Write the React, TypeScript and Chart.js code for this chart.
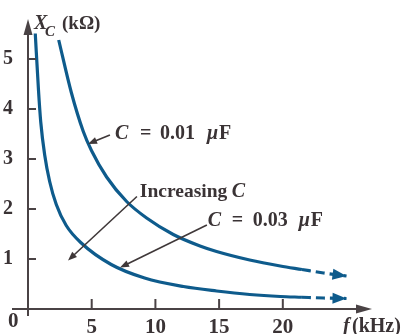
import React, { useEffect, useRef } from "react";
import { Chart, registerables } from "chart.js";

Chart.register(...registerables);

// Data
const freqC1 = [2.41, 3.4, 4.34, 4.98, 6.17, 7.74, 9.31, 11.4, 13.5, 14.8, 17.4, 19.8, 21.5, 23.2, 25.0];
const xcC1 = [5.38, 4.33, 3.55, 3.17, 2.64, 2.15, 1.82, 1.49, 1.26, 1.15, 0.98, 0.86, 0.79, 0.72, 0.66];
const freqC3 = [0.57, 0.82, 1.0, 1.31, 1.7, 2.22, 3.0, 4.18, 6.53, 9.15, 12.2, 14.8, 17.4, 19.8, 21.5, 23.2, 25.0];
const xcC3 = [5.51, 4.39, 3.74, 3.08, 2.55, 2.09, 1.67, 1.32, 0.89, 0.62, 0.45, 0.36, 0.29, 0.25, 0.235, 0.22, 0.21];
const dashFrom = 21.5;
const xTicks = [5, 10, 15, 20];
const yTicks = [1, 2, 3, 4, 5];
const xMax = 27;
const yMax = 5.8;

const CURVE = "#0e5b8c";
const AXIS = "#4a4345";
const TEXT = "#3a3335";
const FONT = '"Liberation Serif", "Times New Roman", serif';

function arrowHead(ctx: CanvasRenderingContext2D, x1: number, y1: number, x2: number, y2: number, len: number, half: number, color: string) {
  const a = Math.atan2(y2 - y1, x2 - x1);
  ctx.save();
  ctx.fillStyle = color;
  ctx.beginPath();
  ctx.moveTo(x2, y2);
  ctx.lineTo(x2 - len * Math.cos(a) + half * Math.sin(a), y2 - len * Math.sin(a) - half * Math.cos(a));
  ctx.lineTo(x2 - len * Math.cos(a) - half * Math.sin(a), y2 - len * Math.sin(a) + half * Math.cos(a));
  ctx.closePath();
  ctx.fill();
  ctx.restore();
}

function arrow(ctx: CanvasRenderingContext2D, x1: number, y1: number, x2: number, y2: number, color: string, w: number, len: number, half: number) {
  const a = Math.atan2(y2 - y1, x2 - x1);
  ctx.save();
  ctx.strokeStyle = color;
  ctx.lineWidth = w;
  ctx.beginPath();
  ctx.moveTo(x1, y1);
  ctx.lineTo(x2 - (len - 2) * Math.cos(a), y2 - (len - 2) * Math.sin(a));
  ctx.stroke();
  ctx.restore();
  arrowHead(ctx, x1, y1, x2, y2, len, half, color);
}

type Piece = { t: string; dx: number; italic?: boolean; size?: number; dy?: number };
function pieces(ctx: CanvasRenderingContext2D, x: number, y: number, list: Piece[]) {
  ctx.save();
  ctx.fillStyle = TEXT;
  ctx.textBaseline = "middle";
  ctx.textAlign = "left";
  for (const p of list) {
    ctx.font = `${p.italic ? "italic " : ""}bold ${p.size || 20}px ${FONT}`;
    ctx.fillText(p.t, x + p.dx, y + (p.dy || 0));
  }
  ctx.restore();
}

const decor = {
  id: "decor",
  afterDraw(chart: any) {
    const { ctx, scales } = chart;
    const X = (v: number) => scales.x.getPixelForValue(v);
    const Y = (v: number) => scales.y.getPixelForValue(v);
    const x0 = X(0), y0 = Y(0);

    // axes with arrows
    ctx.save();
    ctx.strokeStyle = AXIS;
    ctx.lineWidth = 2;
    ctx.beginPath();
    ctx.moveTo(x0 - 16, y0);
    ctx.lineTo(X(xMax) - 10, y0);
    ctx.moveTo(x0, y0 + 7);
    ctx.lineTo(x0, Y(yMax) + 10);
    ctx.stroke();
    // inner ticks
    ctx.beginPath();
    for (const v of yTicks) {
      ctx.moveTo(x0, Y(v));
      ctx.lineTo(x0 + 8, Y(v));
    }
    for (const v of xTicks) {
      ctx.moveTo(X(v), y0);
      ctx.lineTo(X(v), y0 - 10);
    }
    ctx.stroke();
    ctx.restore();
    arrowHead(ctx, x0, y0, X(xMax), y0, 16, 4.5, AXIS);
    arrowHead(ctx, x0, y0, x0, Y(yMax), 16, 4.5, AXIS);

    // curve arrowheads
    const n1 = freqC1.length, n3 = freqC3.length;
    arrowHead(ctx, X(freqC1[n1 - 2]), Y(xcC1[n1 - 2]), X(freqC1[n1 - 1]), Y(xcC1[n1 - 1]), 14, 5.5, CURVE);
    arrowHead(ctx, X(freqC3[n3 - 2]), Y(xcC3[n3 - 2]), X(freqC3[n3 - 1]), Y(xcC3[n3 - 1]), 14, 5.5, CURVE);

    // origin label
    pieces(ctx, x0 - 20, y0 + 13, [{ t: "0", dx: 0, size: 21 }]);

    // axis titles
    pieces(ctx, x0 + 6, Y(yMax) + 5, [
      { t: "X", dx: 0, italic: true, size: 20 },
      { t: "C", dx: 11, italic: true, size: 15, dy: 8 },
      { t: "(k\u03A9)", dx: 28, size: 19 },
    ]);
    pieces(ctx, X(xMax) - 29, y0 + 18, [
      { t: "f", dx: 0, italic: true },
      { t: "(kHz)", dx: 9 },
    ]);

    // annotations
    const grey = "#3f3839";
    arrow(ctx, X(6.43), Y(3.48), X(4.71), Y(3.3), grey, 1.6, 9, 3.5);
    pieces(ctx, X(6.82), Y(3.5), [
      { t: "C", dx: 0, italic: true },
      { t: "=", dx: 25 },
      { t: "0.01", dx: 45 },
      { t: "\u03BC", dx: 92, italic: true },
      { t: "F", dx: 104 },
    ]);
    arrow(ctx, X(8.55), Y(2.25), X(3.14), Y(0.97), grey, 1.6, 9, 3.5);
    pieces(ctx, X(8.78), Y(2.35), [
      { t: "Increasing", dx: 0, size: 19.5 },
      { t: "C", dx: 92, italic: true },
    ]);
    arrow(ctx, X(14.04), Y(1.68), X(7.22), Y(0.83), grey, 1.6, 9, 3.5);
    pieces(ctx, X(14.1), Y(1.76), [
      { t: "C", dx: 0, italic: true },
      { t: "=", dx: 24 },
      { t: "0.03", dx: 45 },
      { t: "\u03BC", dx: 91, italic: true },
      { t: "F", dx: 103 },
    ]);
  },
};

export default function App() {
  const ref = useRef<HTMLCanvasElement | null>(null);
  useEffect(() => {
    if (!ref.current) return;
    const dash = (ctx: any) => (ctx.p0.parsed.x >= dashFrom - 0.01 ? [9, 5] : undefined);
    const chart = new Chart(ref.current, {
      type: "line",
      data: {
        datasets: [
          {
            label: "C = 0.01 \u03BCF",
            data: freqC1.map((f, i) => ({ x: f, y: xcC1[i] })),
            borderColor: CURVE,
            borderWidth: 3.2,
            pointRadius: 0,
            cubicInterpolationMode: "monotone",
            segment: { borderDash: dash },
          },
          {
            label: "C = 0.03 \u03BCF",
            data: freqC3.map((f, i) => ({ x: f, y: xcC3[i] })),
            borderColor: CURVE,
            borderWidth: 3.2,
            pointRadius: 0,
            cubicInterpolationMode: "monotone",
            segment: { borderDash: dash },
          },
        ],
      },
      options: {
        animation: false,
        responsive: false,
        maintainAspectRatio: false,
        layout: { padding: { top: 15, right: 34, left: 0, bottom: 0 } },
        plugins: { legend: { display: false }, tooltip: { enabled: false } },
        scales: {
          x: {
            type: "linear",
            min: 0,
            max: xMax,
            grid: { display: false },
            border: { display: false },
            afterBuildTicks: (s: any) => {
              s.ticks = xTicks.map((v) => ({ value: v }));
            },
            ticks: {
              autoSkip: false,
              maxRotation: 0,
              padding: -2,
              color: TEXT,
              font: { family: FONT, size: 21, weight: "bold" },
            },
            afterFit: (s: any) => {
              s.height = 25;
            },
          },
          y: {
            type: "linear",
            min: 0,
            max: yMax,
            grid: { display: false },
            border: { display: false },
            afterBuildTicks: (s: any) => {
              s.ticks = yTicks.map((v) => ({ value: v }));
            },
            ticks: {
              padding: 7,
              color: TEXT,
              font: { family: FONT, size: 20, weight: "bold" },
            },
            afterFit: (s: any) => {
              s.width = 28;
            },
          },
        },
      } as any,
      plugins: [decor],
    });
    return () => chart.destroy();
  }, []);
  return (
    <div style={{ position: "absolute", left: 0, top: 0, width: 406, height: 334, background: "#fff" }}>
      <canvas ref={ref} width={406} height={334} />
    </div>
  );
}
